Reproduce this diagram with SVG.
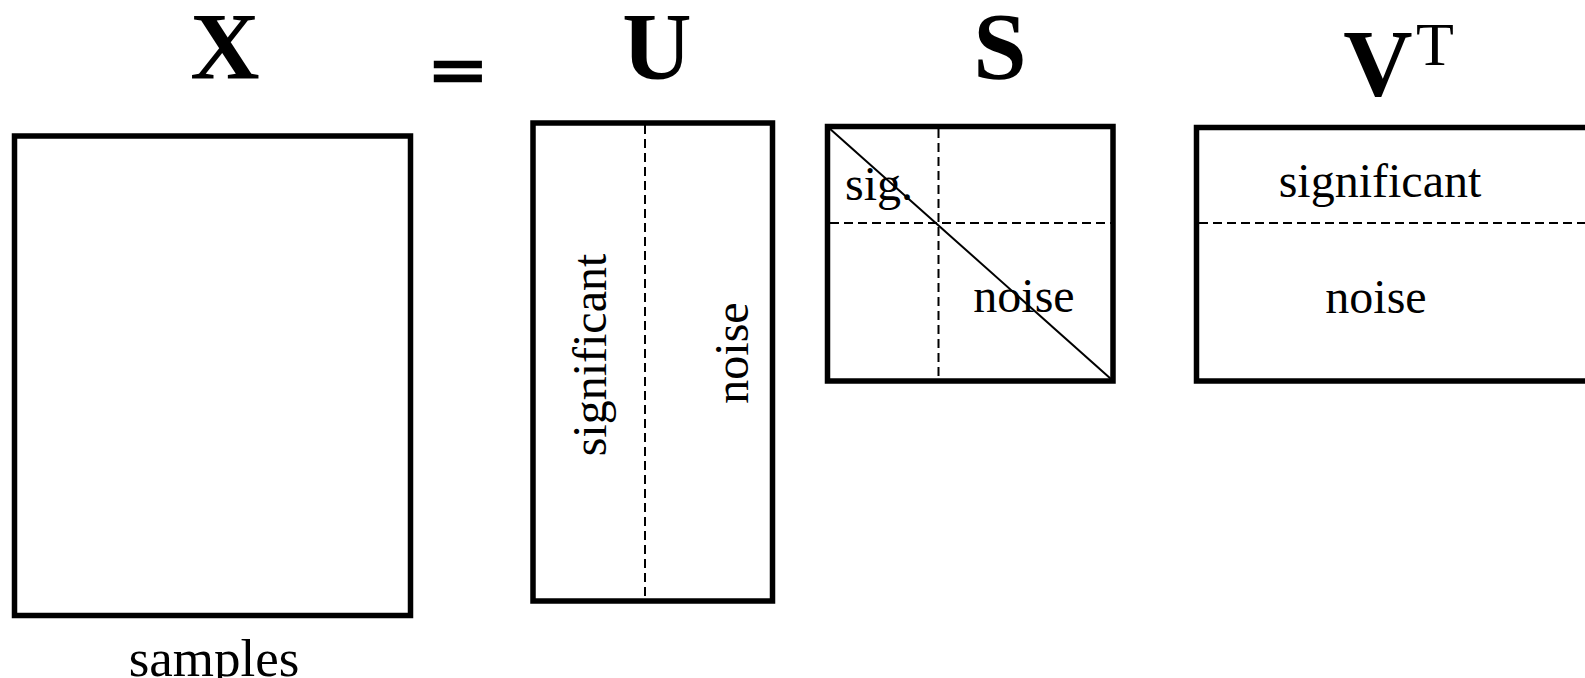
<svg xmlns="http://www.w3.org/2000/svg" width="1585" height="678" viewBox="0 0 1585 678">
<style>
.box{fill:none;stroke:#000;stroke-width:5.5}
.dash{fill:none;stroke:#000;stroke-width:2;stroke-dasharray:9 5}
.diag{fill:none;stroke:#000;stroke-width:2}
.head{font-family:"Liberation Serif","Times New Roman",serif;font-weight:bold;font-size:96px;fill:#000;text-anchor:middle}
.lbl{font-family:"Liberation Serif","Times New Roman",serif;font-size:48px;fill:#000;text-anchor:middle}
</style>
<rect width="1585" height="678" fill="#fff"/>
<g id="title">
<text class="head" x="225" y="79">X</text>
<text class="head" transform="translate(458,95) scale(1,0.75)" style="font-size:96px;stroke:#000;stroke-width:3.5">=</text>
<text class="head" x="657" y="79">U</text>
<text class="head" x="1000" y="79">S</text>
<text class="head" x="1378" y="96">V</text>
<text class="lbl" x="1435" y="65" style="font-size:62px">T</text>
</g>
<g id="matrix-X">
<rect class="box" x="14.5" y="136" width="396" height="479.5"/>
<text class="lbl" x="214" y="676" style="font-size:53px">samples</text>
</g>
<g id="matrix-U">
<rect class="box" x="533" y="123" width="239.5" height="478"/>
<text class="lbl" transform="translate(606,355) rotate(-90)">significant</text>
<text class="lbl" transform="translate(748,353) rotate(-90)">noise</text>
</g>
<g id="matrix-S">
<rect class="box" x="827.5" y="126.5" width="285.5" height="254.5"/>
<text class="lbl" x="879" y="200">sig.</text>
<text class="lbl" x="1024" y="312">noise</text>
</g>
<g id="matrix-VT">
<rect class="box" x="1196.5" y="127.5" width="400" height="253.5"/>
<text class="lbl" x="1380" y="197">significant</text>
<text class="lbl" x="1376" y="313">noise</text>
</g>
<g id="connectors">
<line class="dash" x1="645" y1="125" x2="645" y2="599"/>
<line class="dash" x1="938.5" y1="129" x2="938.5" y2="379"/>
<line class="dash" x1="830" y1="223" x2="1111" y2="223"/>
<line class="dash" x1="1199" y1="223" x2="1585" y2="223"/>
<line class="diag" x1="829" y1="128" x2="1111" y2="379"/>
</g>
</svg>
